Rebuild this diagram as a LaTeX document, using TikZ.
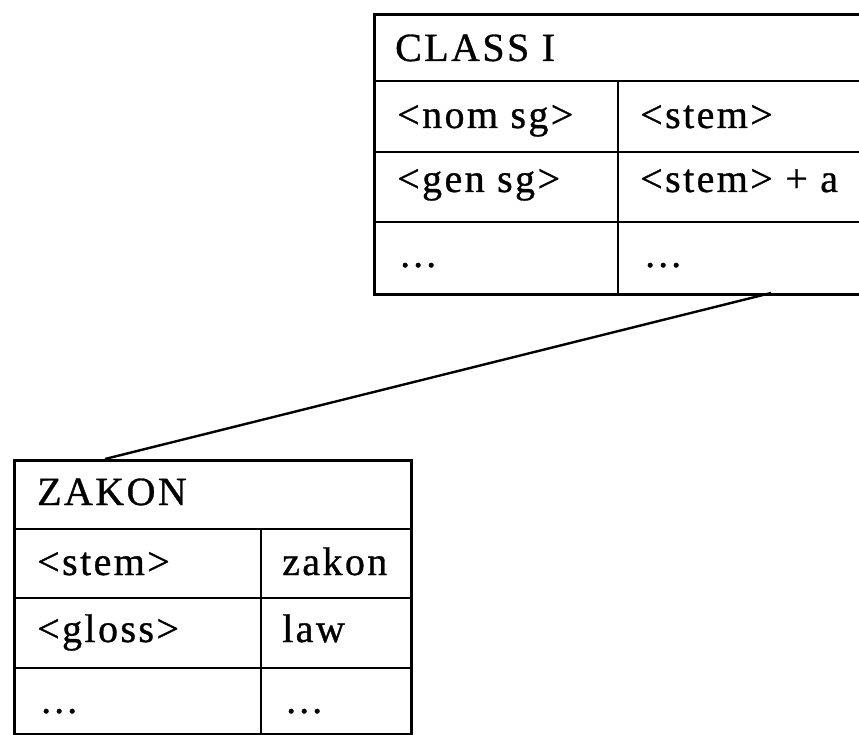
\documentclass[tikz,border=0pt]{standalone}
\usepackage{fontspec}
\setmainfont{Liberation Serif}[LetterSpace=6,FakeBold=0.8]
\usetikzlibrary{calc}
\newcommand{\mydots}{.\hspace{3pt}.\hspace{3pt}.}
\begin{document}
\begin{tikzpicture}[x=1pt,y=-1pt,
  font=\fontsize{40}{48}\selectfont,
  frame/.style={draw, line width=3pt, inner sep=0pt, anchor=north west},
  rule/.style={line width=2.4pt},
  cell/.style={anchor=base west, inner sep=0pt},
  link/.style={line width=2.4pt}]
\useasboundingbox (0,0) rectangle (859,735);
\clip (0,0) rectangle (859,735);

% ---- CLASS I table ----
\node[frame, minimum width=507pt, minimum height=280pt] (classI) at (373,13) {};
\draw[rule] (373,81) -- (880,81);
\draw[rule] (373,152) -- (880,152);
\draw[rule] (373,222) -- (880,222);
\draw[rule] (618,81) -- (618,293);
\node[cell] (cTitle) at (395,61) {CLASS I};
\node[cell] (cNom) at (397,128) {<nom sg>};
\node[cell] (cNomV) at (640,128) {<stem>};
\node[cell] (cGen) at (397,192) {<gen sg>};
\node[cell] (cGenV) at (640,192) {<stem> + a};
\node[cell] (cDots) at (400,267) {\mydots};
\node[cell] (cDotsV) at (645,267) {\mydots};

% ---- ZAKON table ----
\node[frame, minimum width=397pt, minimum height=274pt] (zakon) at (13,459) {};
\draw[rule] (13,529) -- (410,529);
\draw[rule] (13,598) -- (410,598);
\draw[rule] (13,668) -- (410,668);
\draw[rule] (261,529) -- (261,733);
\node[cell] (zTitle) at (37,505) {ZAKON};
\node[cell] (zStem) at (37,575) {<stem>};
\node[cell] (zStemV) at (282,575) {zakon};
\node[cell] (zGloss) at (37,642) {<gloss>};
\node[cell] (zGlossV) at (282,642) {law};
\node[cell] (zDots) at (41,713) {\mydots};
\node[cell] (zDotsV) at (286,713) {\mydots};

% ---- connector ----
\coordinate (topEnd) at (771,293);
\coordinate (botEnd) at (105,459);
\draw[link] (topEnd) -- (botEnd);
\end{tikzpicture}
\end{document}
